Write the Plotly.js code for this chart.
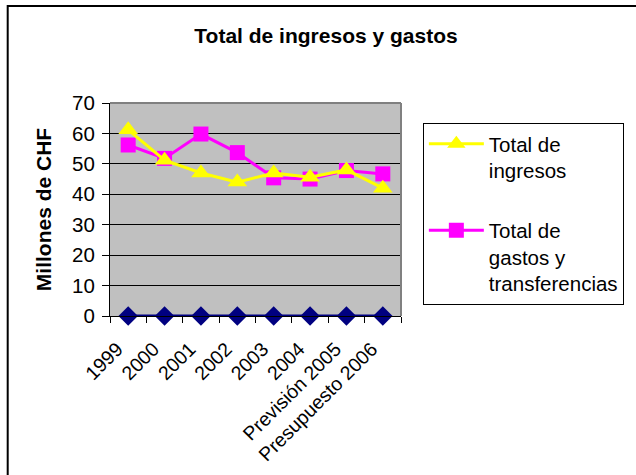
<!DOCTYPE html>
<html>
<head>
<meta charset="utf-8">
<script src="https://cdn.plot.ly/plotly-3.0.1.min.js"></script>
<style>html,body{margin:0;padding:0;background:#fff;}#chart{width:636px;height:475px;}</style>
</head>
<body>
<div id="chart"></div>
<script>
const categories = ['1999', '2000', '2001', '2002', '2003', '2004', 'Previsión 2005', 'Presupuesto 2006'];
const ingresos = [61.2, 51.2, 47.0, 44.0, 47.0, 45.6, 48.0, 42.0];
const gastos = [56.2, 51.8, 59.8, 53.7, 45.4, 45.0, 47.8, 46.7];
const saldo = [0, 0, 0, 0, 0, 0, 0, 0];
const yTicks = [0, 10, 20, 30, 40, 50, 60, 70];

const FONT = 'Arial, "Liberation Sans", sans-serif';
const W = 636, H = 475;
const L = 110, R = 403, T = 103, B = 316;
const pw = R - L, ph = B - T;
const px = v => (v - L) / pw;
const py = v => (B - v) / ph;

const traces = [
  {x: categories, y: saldo, type: 'scatter', mode: 'lines+markers', name: 'Saldo',
   showlegend: false, line: {color: '#000080', width: 3},
   marker: {symbol: 'diamond', size: 15, color: '#000080'}, cliponaxis: false},
  {x: categories, y: gastos, type: 'scatter', mode: 'lines+markers',
   name: 'Total de<br>gastos y<br>transferencias', legendgroup: 'g', legendrank: 2,
   line: {color: '#FF00FF', width: 3},
   marker: {symbol: 'square', size: 15, color: '#FF00FF'}},
  {x: categories, y: ingresos, type: 'scatter', mode: 'lines+markers',
   name: 'Total de<br>ingresos', legendgroup: 'i', legendrank: 1,
   line: {color: '#FFFF00', width: 3},
   marker: {symbol: 'triangle-up', size: 17, color: '#FFFF00'}}
];

const layout = {
  width: W, height: H,
  margin: {l: L, r: W - R, t: T, b: H - B, pad: 0},
  paper_bgcolor: '#ffffff', plot_bgcolor: '#C0C0C0',
  font: {family: FONT, color: '#000000', size: 20},
  title: {text: 'Total de ingresos y gastos', font: {family: FONT, size: 21, weight: 'bold', color: '#000'},
          x: 326 / W, xref: 'container', xanchor: 'center', y: 1 - 36 / H, yref: 'container', yanchor: 'middle'},
  xaxis: {type: 'category', range: [-0.5, 7.5], showline: true, linecolor: '#000', linewidth: 1,
          ticks: 'outside', tickson: 'boundaries', ticklen: 6, tickcolor: '#000', tickwidth: 1,
          tickangle: -45, showgrid: false, zeroline: false,
          ticklabelstandoff: 13, ticklabelshift: -11,
          tickfont: {size: 19.5, family: FONT, color: '#000'}},
  yaxis: {range: [0, 70], tickvals: yTicks, showline: true, linecolor: '#000', linewidth: 1,
          ticks: 'outside', ticklen: 7, tickcolor: '#000', tickwidth: 1,
          showgrid: true, gridcolor: '#000', gridwidth: 1, zeroline: false,
          ticklabelstandoff: 3,
          tickfont: {size: 20.5, family: FONT, color: '#000'},
          title: {text: 'Millones de CHF', font: {family: FONT, size: 21, weight: 'bold', color: '#000'}, standoff: 14}},
  legend: {x: px(425), y: py(123), xanchor: 'left', yanchor: 'top', bgcolor: '#fff',
           bordercolor: '#000', borderwidth: 1, font: {family: FONT, size: 20.5, color: '#000'},
           itemwidth: 55, valign: 'top', traceorder: 'grouped', tracegroupgap: 30},
  shapes: [
    {type: 'line', xref: 'paper', yref: 'paper', x0: 0, x1: 1, y0: 1, y1: 1, line: {color: '#808080', width: 2}},
    {type: 'line', xref: 'paper', yref: 'paper', x0: 1, x1: 1, y0: 0, y1: 1, line: {color: '#808080', width: 2}},
    {type: 'rect', xref: 'paper', yref: 'paper', x0: px(7), x1: px(660), y0: py(500), y1: py(6),
     line: {color: '#000', width: 2}, fillcolor: 'rgba(0,0,0,0)'}
  ]
};

Plotly.newPlot('chart', traces, layout, {displayModeBar: false, staticPlot: true});
</script>
</body>
</html>
